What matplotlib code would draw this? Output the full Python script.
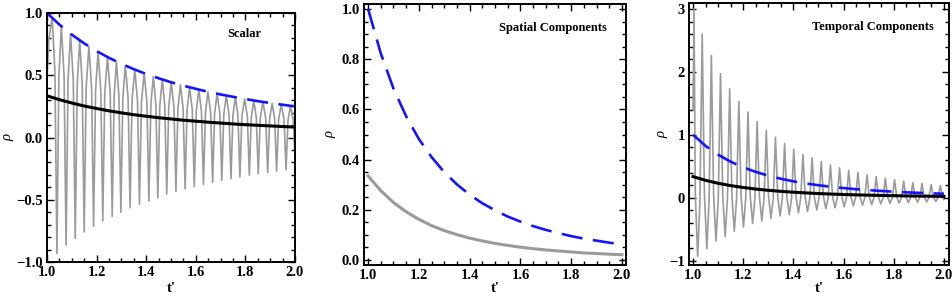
import matplotlib
matplotlib.use("Agg")
import matplotlib.pyplot as plt
from matplotlib.ticker import MultipleLocator

plt.rcParams["font.family"] = ["Liberation Serif", "DejaVu Serif"]
plt.rcParams["font.weight"] = "bold"

BLUE = "#1414ff"
GREY = "#9a9a9a"

# ---------------- Scalar panel ----------------
# smooth curves read at 0.05 steps
smooth_t = [1.00, 1.05, 1.10, 1.15, 1.20, 1.25, 1.30, 1.35, 1.40, 1.45, 1.50,
            1.55, 1.60, 1.65, 1.70, 1.75, 1.80, 1.85, 1.90, 1.95, 2.00]
scalar_blue = [1.00, 0.907, 0.826, 0.756, 0.694, 0.640, 0.592, 0.549, 0.510, 0.476, 0.444,
               0.416, 0.391, 0.367, 0.346, 0.327, 0.309, 0.292, 0.277, 0.263, 0.250]
scalar_black = [0.335, 0.304, 0.277, 0.253, 0.233, 0.214, 0.198, 0.183, 0.171, 0.159, 0.149,
                0.139, 0.131, 0.123, 0.116, 0.109, 0.103, 0.098, 0.093, 0.088, 0.084]

# oscillating grey curve: trough, rising side, peak, falling side for each cycle
scalar_grey_t = [
    1.000, 1.008, 1.021, 1.032,
    1.040, 1.048, 1.058, 1.069,
    1.077, 1.085, 1.095, 1.106,
    1.114, 1.122, 1.132, 1.142,
    1.150, 1.158, 1.169, 1.180,
    1.188, 1.196, 1.206, 1.217,
    1.225, 1.233, 1.244, 1.255,
    1.263, 1.271, 1.280, 1.290,
    1.298, 1.306, 1.316, 1.327,
    1.335, 1.343, 1.354, 1.365,
    1.373, 1.381, 1.392, 1.403,
    1.411, 1.419, 1.429, 1.439,
    1.447, 1.455, 1.465, 1.475,
    1.483, 1.491, 1.501, 1.512,
    1.520, 1.528, 1.538, 1.549,
    1.557, 1.565, 1.575, 1.586,
    1.594, 1.602, 1.612, 1.623,
    1.631, 1.639, 1.649, 1.660,
    1.668, 1.676, 1.686, 1.697,
    1.705, 1.713, 1.723, 1.734,
    1.742, 1.750, 1.760, 1.770,
    1.778, 1.786, 1.797, 1.808,
    1.816, 1.824, 1.834, 1.844,
    1.852, 1.860, 1.871, 1.882,
    1.890, 1.898, 1.908, 1.918,
    1.926, 1.934, 1.945, 1.956,
    1.964, 1.972, 1.982, 1.993,
    2.000]
scalar_grey_rho = [
    0.45, 0.80, 0.96, 0.53,
    -0.930, 0.49, 0.893, 0.49,
    -0.865, 0.46, 0.834, 0.46,
    -0.810, 0.43, 0.780, 0.43,
    -0.758, 0.40, 0.732, 0.40,
    -0.713, 0.38, 0.688, 0.38,
    -0.670, 0.355, 0.646, 0.355,
    -0.632, 0.335, 0.610, 0.335,
    -0.600, 0.32, 0.577, 0.32,
    -0.563, 0.30, 0.545, 0.30,
    -0.535, 0.285, 0.516, 0.285,
    -0.510, 0.27, 0.490, 0.27,
    -0.483, 0.256, 0.466, 0.256,
    -0.455, 0.244, 0.444, 0.244,
    -0.433, 0.233, 0.423, 0.233,
    -0.412, 0.222, 0.403, 0.222,
    -0.394, 0.212, 0.385, 0.212,
    -0.376, 0.202, 0.368, 0.202,
    -0.359, 0.194, 0.352, 0.194,
    -0.344, 0.185, 0.337, 0.185,
    -0.330, 0.178, 0.323, 0.178,
    -0.316, 0.170, 0.310, 0.170,
    -0.303, 0.163, 0.297, 0.163,
    -0.292, 0.157, 0.286, 0.157,
    -0.280, 0.151, 0.275, 0.151,
    -0.270, 0.145, 0.264, 0.145,
    -0.260, 0.140, 0.255, 0.140,
    -0.15]

# ---------------- Spatial panel ----------------
spatial_blue_t = [1.00, 1.05, 1.10, 1.15, 1.20, 1.25, 1.30, 1.35, 1.40, 1.45, 1.50,
                  1.55, 1.60, 1.65, 1.70, 1.75, 1.80, 1.85, 1.90, 1.95, 1.97]
spatial_blue = [1.00, 0.823, 0.683, 0.572, 0.482, 0.410, 0.350, 0.301, 0.260, 0.226, 0.198,
                0.173, 0.153, 0.135, 0.120, 0.107, 0.095, 0.085, 0.077, 0.069, 0.066]
spatial_grey = [0.335, 0.276, 0.229, 0.192, 0.162, 0.137, 0.117, 0.101, 0.087, 0.076, 0.066,
                0.058, 0.051, 0.045, 0.040, 0.036, 0.032, 0.028, 0.026, 0.023, 0.021]

# ---------------- Temporal panel ----------------
temporal_blue = [1.00, 0.823, 0.683, 0.572, 0.482, 0.410, 0.350, 0.301, 0.260, 0.226, 0.198,
                 0.173, 0.153, 0.135, 0.120, 0.107, 0.095, 0.085, 0.077, 0.069, 0.063]
temporal_black = [0.335, 0.276, 0.229, 0.192, 0.162, 0.137, 0.117, 0.101, 0.087, 0.076, 0.066,
                  0.058, 0.051, 0.045, 0.040, 0.036, 0.032, 0.028, 0.026, 0.023, 0.021]

# oscillating grey curve: peak, falling side, trough, rising side for each cycle
temporal_grey_t = [
    1.0000, 1.0040, 1.0090, 1.0185, 1.0275,
    1.0365, 1.0455, 1.0550, 1.0640,
    1.0730, 1.0820, 1.0915, 1.1005,
    1.1095, 1.1185, 1.1280, 1.1370,
    1.1460, 1.1550, 1.1645, 1.1735,
    1.1825, 1.1915, 1.2010, 1.2100,
    1.2190, 1.2280, 1.2375, 1.2465,
    1.2555, 1.2645, 1.2740, 1.2830,
    1.2920, 1.3010, 1.3105, 1.3195,
    1.3285, 1.3375, 1.3470, 1.3560,
    1.3650, 1.3740, 1.3835, 1.3925,
    1.4015, 1.4105, 1.4200, 1.4290,
    1.4380, 1.4470, 1.4565, 1.4655,
    1.4745, 1.4835, 1.4930, 1.5020,
    1.5110, 1.5200, 1.5295, 1.5385,
    1.5475, 1.5565, 1.5660, 1.5750,
    1.5840, 1.5930, 1.6025, 1.6115,
    1.6205, 1.6295, 1.6390, 1.6480,
    1.6570, 1.6660, 1.6755, 1.6845,
    1.6935, 1.7025, 1.7120, 1.7210,
    1.7300, 1.7390, 1.7485, 1.7575,
    1.7665, 1.7755, 1.7850, 1.7940,
    1.8030, 1.8120, 1.8215, 1.8305,
    1.8395, 1.8485, 1.8580, 1.8670,
    1.8760, 1.8850, 1.8945, 1.9035,
    1.9125, 1.9215, 1.9310, 1.9400,
    1.9490, 1.9580, 1.9675, 1.9765,
    1.9855, 1.9945, 2.0000]
temporal_grey_rho = [
    1.40, 3.00, 0.05, -0.930, -0.05,
    2.60, 0.04, -0.810, -0.04,
    2.26, 0.05, -0.690, -0.025,
    1.97, 0.03, -0.615, -0.03,
    1.73, 0.03, -0.535, -0.02,
    1.53, 0.03, -0.465, -0.01,
    1.36, 0.03, -0.410, 0.00,
    1.21, 0.025, -0.370, -0.01,
    1.07, 0.02, -0.330, -0.01,
    0.96, 0.02, -0.290, 0.00,
    0.86, 0.01, -0.270, -0.01,
    0.77, 0.01, -0.240, -0.01,
    0.69, 0.01, -0.220, -0.01,
    0.635, 0.01, -0.195, 0.00,
    0.575, 0.01, -0.175, 0.00,
    0.52, 0.01, -0.160, 0.00,
    0.475, 0.01, -0.145, 0.00,
    0.435, 0.01, -0.130, 0.00,
    0.40, 0.01, -0.120, 0.00,
    0.365, 0.01, -0.110, 0.00,
    0.335, 0.01, -0.100, 0.00,
    0.31, 0.01, -0.090, 0.00,
    0.285, 0.01, -0.085, 0.00,
    0.265, 0.01, -0.078, 0.00,
    0.24, 0.01, -0.072, 0.00,
    0.225, 0.01, -0.066, 0.00,
    0.21, 0.01, -0.060, 0.00,
    0.19, 0.01, -0.03]


def style_axes(ax, xlim, ylim, ymajor, yminor, title, title_xy, ylabel_x, xlabel_y):
    ax.set_xlim(*xlim)
    ax.set_ylim(*ylim)
    ax.xaxis.set_major_locator(MultipleLocator(0.2))
    ax.xaxis.set_minor_locator(MultipleLocator(0.05))
    ax.yaxis.set_major_locator(MultipleLocator(ymajor))
    ax.yaxis.set_minor_locator(MultipleLocator(yminor))
    ax.tick_params(which="both", direction="in", top=True, right=True,
                   width=1.0, labelsize=10.5, pad=3)
    ax.tick_params(which="major", length=5)
    ax.tick_params(which="minor", length=3)
    for s in ax.spines.values():
        s.set_linewidth(1.4)
    ax.text(title_xy[0], title_xy[1], title, transform=ax.transAxes,
            ha="center", va="center", fontsize=9, fontweight="bold")
    ax.set_xlabel("t'", fontsize=10.5, fontweight="bold")
    ax.xaxis.set_label_coords(0.5, xlabel_y)
    ax.set_ylabel("ρ", fontsize=10.5, style="italic", fontweight="normal")
    ax.yaxis.set_label_coords(ylabel_x, 0.5)


fig = plt.figure(figsize=(9.53, 3.03), dpi=100)

ax1 = fig.add_axes([0.0493, 0.1353, 0.2602, 0.8218])
ax1.plot(scalar_grey_t, scalar_grey_rho, color=GREY, lw=1.2)
ax1.plot(smooth_t, scalar_black, color="black", lw=2.2)
ax1.plot(smooth_t, scalar_blue, color=BLUE, lw=1.9, dashes=(8, 4))
style_axes(ax1, (1.0, 2.0), (-1.0, 1.0), 0.5, 0.1, "Scalar", (0.798, 0.916), -0.13, -0.08)

ax2 = fig.add_axes([0.382, 0.1254, 0.2749, 0.8614])
ax2.plot(smooth_t, spatial_grey, color=GREY, lw=2.2)
ax2.plot(spatial_blue_t, spatial_blue, color=BLUE, lw=1.9, dashes=(8, 4))
style_axes(ax2, (0.984, 2.016), (-0.02, 1.02), 0.2, 0.05, "Spatial Components",
           (0.7225, 0.907), -0.105, -0.065)

ax3 = fig.add_axes([0.723, 0.1254, 0.2733, 0.8637])
ax3.plot(temporal_grey_t, temporal_grey_rho, color=GREY, lw=1.2)
ax3.plot(smooth_t, temporal_black, color="black", lw=2.2)
ax3.plot(smooth_t, temporal_blue, color=BLUE, lw=1.9, dashes=(8, 4))
style_axes(ax3, (0.984, 2.022), (-1.07, 3.09), 1, 0.2, "Temporal Components",
           (0.706, 0.908), -0.08, -0.065)

fig.savefig("out.png", dpi=100)
